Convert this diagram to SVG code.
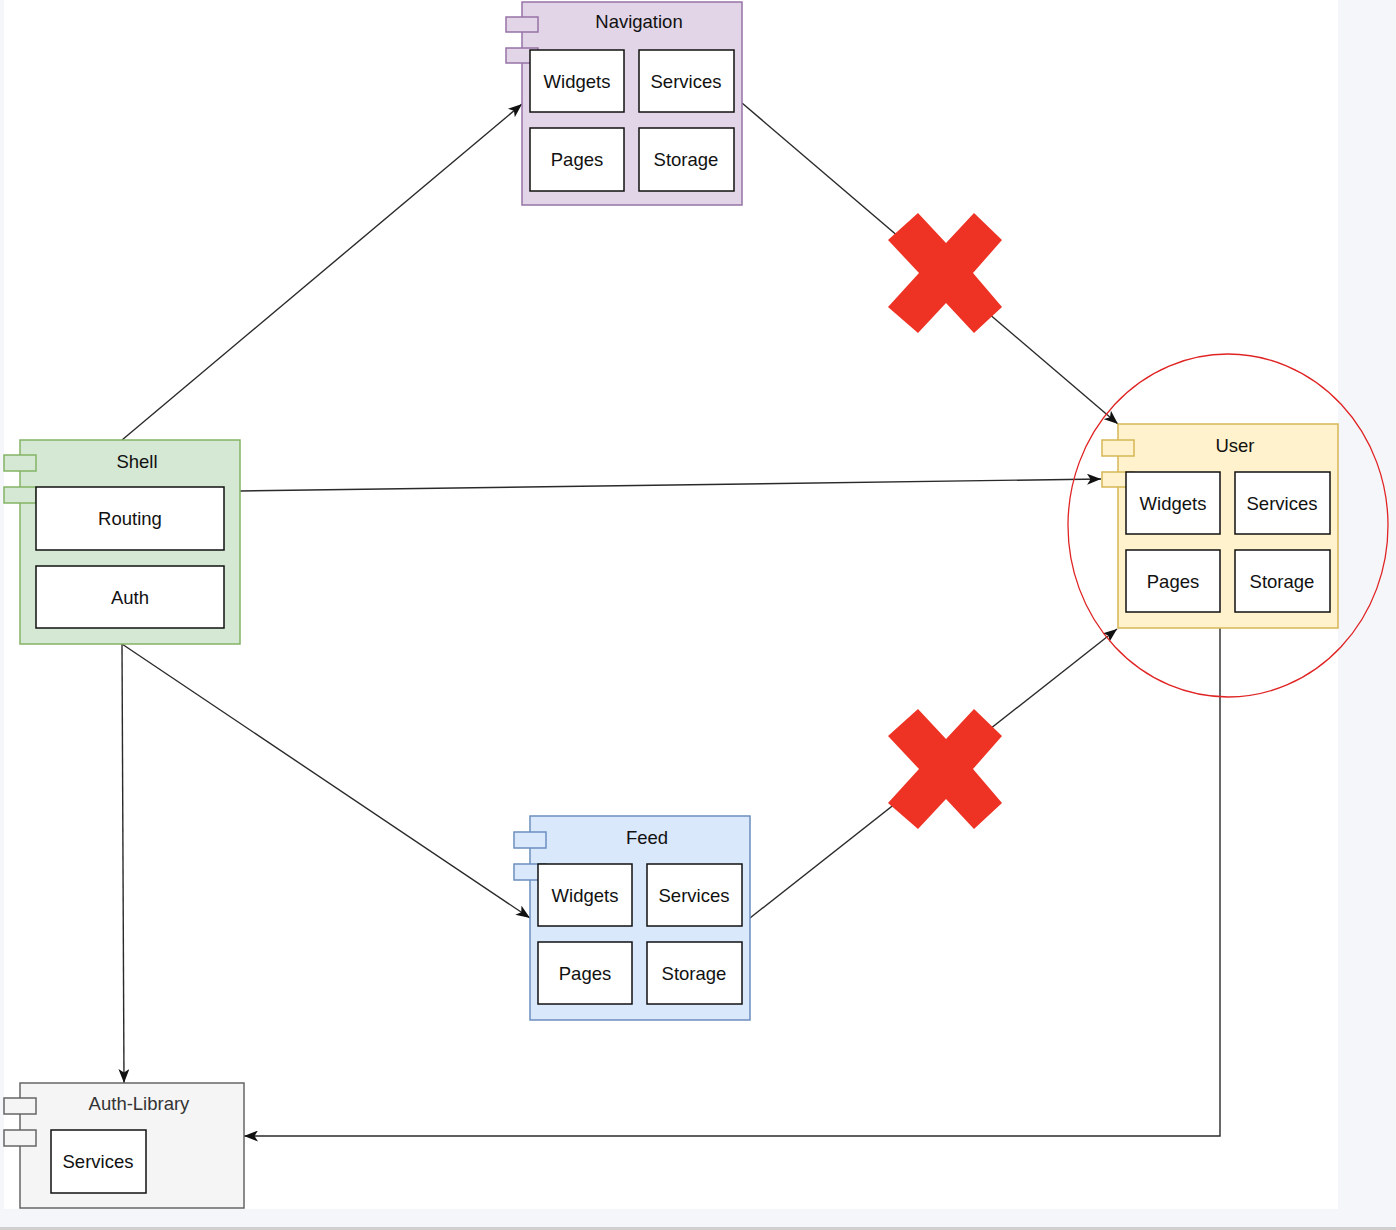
<svg xmlns="http://www.w3.org/2000/svg" width="1396" height="1230" viewBox="0 0 1396 1230">
<style>
text{font-family:"Liberation Sans",Arial,sans-serif;font-size:18.5px;fill:#111;text-anchor:middle}
.inner{fill:#fff;stroke:#111;stroke-width:1.5}
.edge{fill:none;stroke:#2a2a2a;stroke-width:1.4}
.nav{fill:#e1d5e7;stroke:#9673a6;stroke-width:1.5}
.shell{fill:#d5e8d4;stroke:#82b366;stroke-width:1.5}
.user{fill:#fff2cc;stroke:#d6b656;stroke-width:1.5}
.feed{fill:#dae8fc;stroke:#6c8ebf;stroke-width:1.5}
.lib{fill:#f5f5f5;stroke:#666;stroke-width:1.5}
.cross{fill:#ee3224}
</style>
<defs>
<marker id="arr" markerUnits="userSpaceOnUse" markerWidth="14" markerHeight="11" refX="14" refY="5.5" orient="auto">
<path d="M0,0 L14,5.5 L0,11 L3.5,5.5 Z" fill="#111"/>
</marker>
</defs>
<rect x="0" y="0" width="1396" height="1230" fill="#f5f6fa"/>
<rect x="4" y="0" width="1334" height="1209" fill="#fff"/>
<rect x="0" y="1227" width="1396" height="3" fill="#cfcfcf"/>

<g id="connectors">
<path class="edge" d="M122,440 L522,104" marker-end="url(#arr)"/>
<path class="edge" d="M742,103 L1118,424" marker-end="url(#arr)"/>
<path class="edge" d="M240,491 L1101,479" marker-end="url(#arr)"/>
<path class="edge" d="M122,644 L530,918" marker-end="url(#arr)"/>
<path class="edge" d="M750,918 L1117,629" marker-end="url(#arr)"/>
<path class="edge" d="M122,644 L124,1083" marker-end="url(#arr)"/>
<path class="edge" d="M1220,628 L1220,1136 L244,1136" marker-end="url(#arr)"/>
</g>

<g id="navigation">
<rect class="nav" x="522" y="2" width="220" height="203"/>
<rect class="nav" x="506" y="17" width="32" height="15"/>
<rect class="nav" x="506" y="48" width="32" height="15"/>
<text x="639" y="28">Navigation</text>
<rect class="inner" x="530" y="50" width="94" height="62"/>
<text x="577" y="88">Widgets</text>
<rect class="inner" x="639" y="50" width="95" height="62"/>
<text x="686" y="88">Services</text>
<rect class="inner" x="530" y="128" width="94" height="63"/>
<text x="577" y="166">Pages</text>
<rect class="inner" x="639" y="128" width="95" height="63"/>
<text x="686" y="166">Storage</text>
</g>

<g id="shell">
<rect class="shell" x="20" y="440" width="220" height="204"/>
<rect class="shell" x="4" y="455" width="32" height="16"/>
<rect class="shell" x="4" y="487" width="32" height="16"/>
<text x="137" y="468">Shell</text>
<rect class="inner" x="36" y="487" width="188" height="63"/>
<text x="130" y="525">Routing</text>
<rect class="inner" x="36" y="566" width="188" height="62"/>
<text x="130" y="604">Auth</text>
</g>

<g id="user">
<rect class="user" x="1118" y="424" width="220" height="204"/>
<rect class="user" x="1102" y="440" width="32" height="16"/>
<rect class="user" x="1102" y="472" width="32" height="15"/>
<text x="1235" y="452">User</text>
<rect class="inner" x="1126" y="472" width="94" height="62"/>
<text x="1173" y="510">Widgets</text>
<rect class="inner" x="1235" y="472" width="95" height="62"/>
<text x="1282" y="510">Services</text>
<rect class="inner" x="1126" y="550" width="94" height="62"/>
<text x="1173" y="588">Pages</text>
<rect class="inner" x="1235" y="550" width="95" height="62"/>
<text x="1282" y="588">Storage</text>
</g>

<g id="feed">
<rect class="feed" x="530" y="816" width="220" height="204"/>
<rect class="feed" x="514" y="832" width="32" height="16"/>
<rect class="feed" x="514" y="864" width="32" height="16"/>
<text x="647" y="844">Feed</text>
<rect class="inner" x="538" y="864" width="94" height="62"/>
<text x="585" y="902">Widgets</text>
<rect class="inner" x="647" y="864" width="95" height="62"/>
<text x="694" y="902">Services</text>
<rect class="inner" x="538" y="942" width="94" height="62"/>
<text x="585" y="980">Pages</text>
<rect class="inner" x="647" y="942" width="95" height="62"/>
<text x="694" y="980">Storage</text>
</g>

<g id="auth-library">
<rect class="lib" x="20" y="1083" width="224" height="125"/>
<rect class="lib" x="4" y="1098" width="32" height="16"/>
<rect class="lib" x="4" y="1130" width="32" height="16"/>
<text x="139" y="1110" style="fill:#333">Auth-Library</text>
<rect class="inner" x="51" y="1130" width="95" height="63"/>
<text x="98" y="1168">Services</text>
</g>

<g id="cross-top">
<polygon class="cross" points="918,213 946,243 974,213 1002,240 973,273 1002,307 974,333 946,303 918,333 888,307 919,273 888,240"/>
</g>
<g id="cross-bottom">
<polygon class="cross" points="918,709 946,739 974,709 1002,736 973,769 1002,803 974,829 946,799 918,829 888,803 919,769 888,736"/>
</g>

<g id="highlight">
<ellipse cx="1228" cy="525.5" rx="160" ry="171.5" fill="none" stroke="#e02424" stroke-width="1.3"/>
</g>
</svg>
